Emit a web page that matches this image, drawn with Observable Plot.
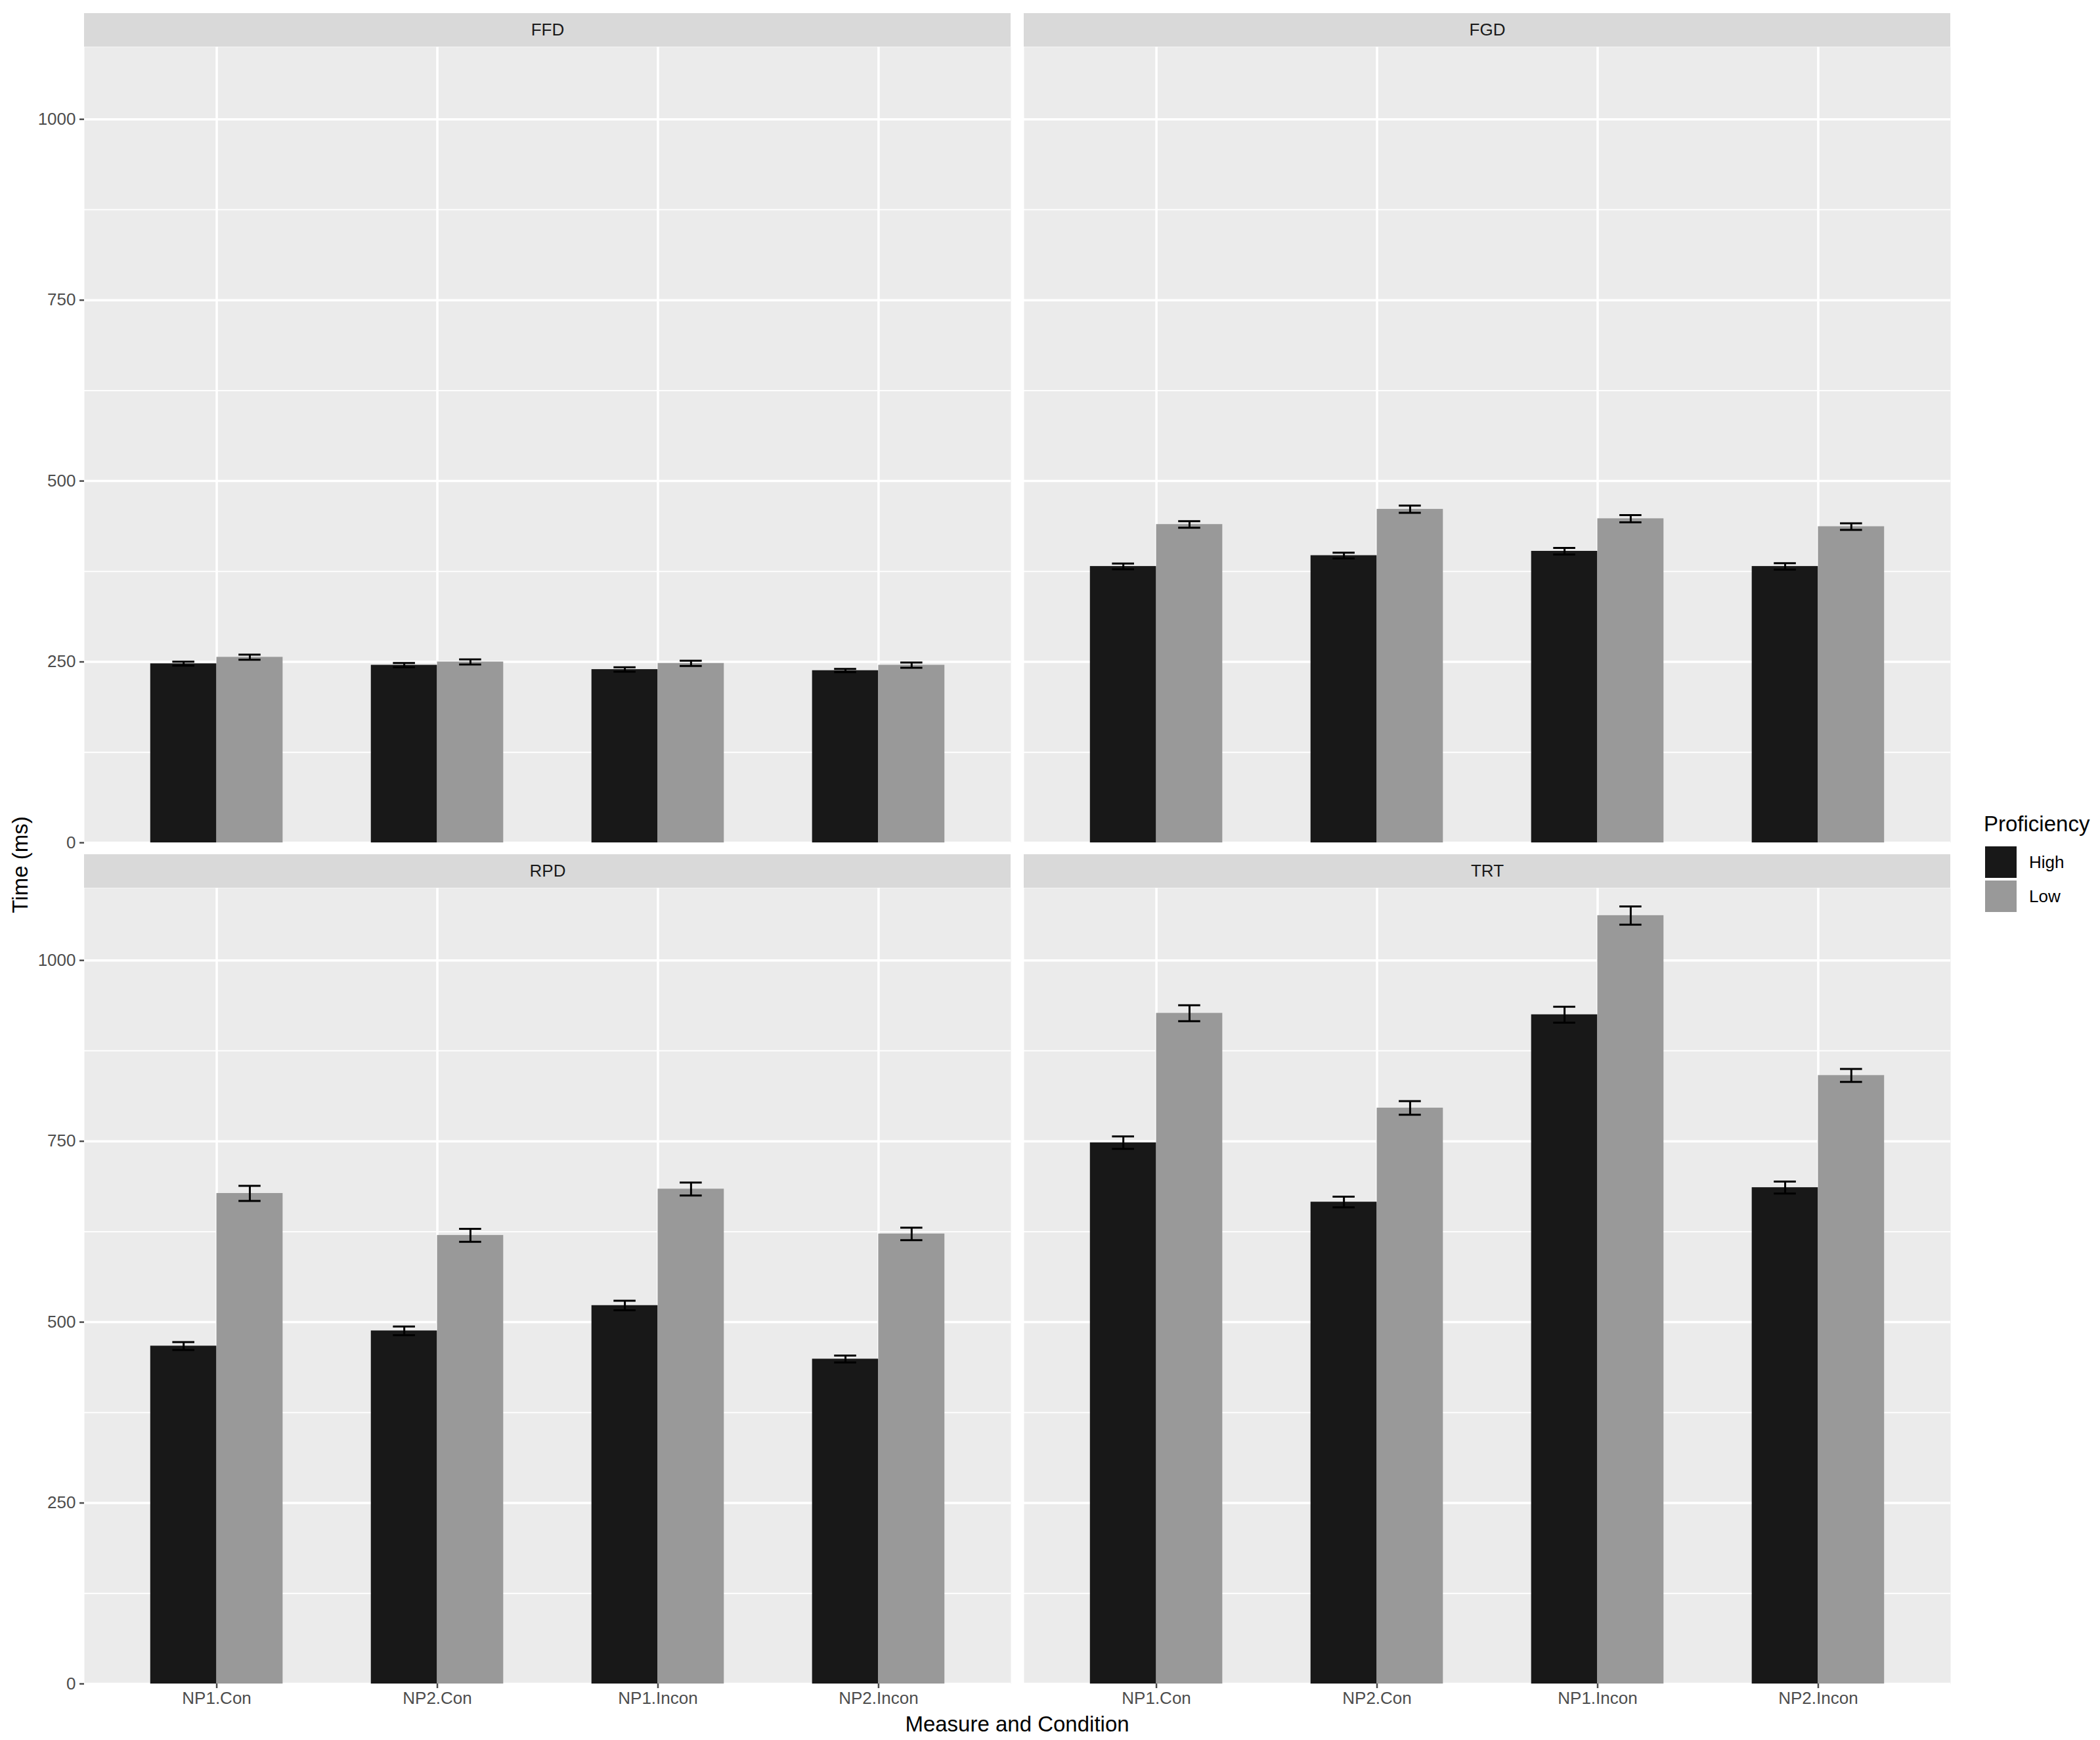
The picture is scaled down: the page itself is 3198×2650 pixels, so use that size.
<!DOCTYPE html>
<html>
<head>
<meta charset="utf-8">
<script src="https://cdn.jsdelivr.net/npm/d3@7"></script>
<script src="https://cdn.jsdelivr.net/npm/@observablehq/plot@0.6"></script>
<style>
  html, body { margin: 0; padding: 0; background: #ffffff; }
  #wrap { position: relative; width: 3198px; height: 2650px; font-family: "Liberation Sans", Arial, Helvetica, sans-serif; }
  #chart { position: absolute; left: 0; top: 0; }
  .abs { position: absolute; white-space: nowrap; line-height: 1; }
</style>
</head>
<body>
<div id="wrap">
  <div id="chart"></div>
  <div class="abs" id="ytitle" style="left:30px; top:1317px; font-size:33px; color:#000; transform:translate(-50%,-50%) rotate(-90deg);">Time (ms)</div>
  <div class="abs" id="xtitle" style="left:1549px; top:2625px; font-size:33px; color:#000; transform:translate(-50%,-50%);">Measure and Condition</div>
  <div id="legend"></div>
</div>
<script>
// ---- data ----
const measures = ["FFD", "FGD", "RPD", "TRT"];
const conditions = ["NP1.Con", "NP2.Con", "NP1.Incon", "NP2.Incon"];
const groups = ["High", "Low"];
const groupColors = ["#181818", "#999999"];

const ffdHigh = [247.5, 245.5, 239.5, 238];
const ffdLow  = [256.5, 250, 248, 245.5];
const fgdHigh = [382, 397, 403, 382];
const fgdLow  = [440, 461, 448, 437];
const rpdHigh = [467, 488, 523, 449];
const rpdLow  = [678, 620, 684, 622];
const trtHigh = [748, 666, 925, 686];
const trtLow  = [927, 796, 1062, 841];

const ffdHighSE = [2.7, 3, 3, 2.3];
const ffdLowSE  = [3.5, 3.5, 3.6, 3.6];
const fgdHighSE = [4, 4, 4.5, 4.5];
const fgdLowSE  = [4.5, 5, 5, 4.5];
const rpdHighSE = [5.5, 6, 6.5, 4.7];
const rpdLowSE  = [10.5, 9, 9, 8.6];
const trtHighSE = [8.6, 7.4, 11, 8.2];
const trtLowSE  = [11, 9.4, 12.5, 9];

const yMajor = [0, 250, 500, 750, 1000];
const yMinor = [125, 375, 625, 875];

// ---- build table ----
const meanBy = { FFD: [ffdHigh, ffdLow], FGD: [fgdHigh, fgdLow], RPD: [rpdHigh, rpdLow], TRT: [trtHigh, trtLow] };
const seBy = { FFD: [ffdHighSE, ffdLowSE], FGD: [fgdHighSE, fgdLowSE], RPD: [rpdHighSE, rpdLowSE], TRT: [trtHighSE, trtLowSE] };

const dodge = 0.15;   // half of each bar's width in band units
const capHalf = 0.05;
const rows = [];
measures.forEach((m, mi) => {
  conditions.forEach((c, ci) => {
    groups.forEach((g, gi) => {
      const mean = meanBy[m][gi][ci];
      const se = seBy[m][gi][ci];
      const center = ci + 1 + (gi === 0 ? -dodge : dodge);
      rows.push({ measure: m, col: mi % 2, row: Math.floor(mi / 2), cond: c, group: g,
        mean, lo: mean - se, hi: mean + se, center });
    });
  });
});
const facets = measures.map((m, mi) => ({ measure: m, col: mi % 2, row: Math.floor(mi / 2) }));
const F = { fx: "col", fy: "row" };

const chart = Plot.plot({
  width: 3198,
  height: 2650,
  marginLeft: 128,
  marginRight: 228,
  marginTop: 71,
  marginBottom: 86,
  style: { fontFamily: "'Liberation Sans', Arial, Helvetica, sans-serif", background: "#ffffff", overflow: "visible" },
  fx: { domain: [0, 1], paddingInner: 0.014, paddingOuter: 0, axis: null, label: null },
  fy: { domain: [0, 1], paddingInner: 0.0539, paddingOuter: 0, axis: null, label: null },
  x: { type: "linear", domain: [0.4, 4.6] },
  y: { domain: [0, 1100] },
  color: { domain: groups, range: groupColors },
  marks: [
    Plot.frame({ fill: "#EBEBEB", stroke: "none" }),
    Plot.gridY(yMinor, { stroke: "#ffffff", strokeOpacity: 1, strokeWidth: 1.8 }),
    Plot.gridY(yMajor, { stroke: "#ffffff", strokeOpacity: 1, strokeWidth: 3.5 }),
    Plot.gridX([1, 2, 3, 4], { stroke: "#ffffff", strokeOpacity: 1, strokeWidth: 3.5 }),
    Plot.rectY(rows, { ...F, x1: d => d.center - dodge, x2: d => d.center + dodge, y1: 0, y2: "mean", fill: "group" }),
    Plot.ruleX(rows, { ...F, x: "center", y1: "lo", y2: "hi", stroke: "#000000", strokeWidth: 3 }),
    Plot.ruleY(rows, { ...F, y: "hi", x1: d => d.center - capHalf, x2: d => d.center + capHalf, stroke: "#000000", strokeWidth: 3 }),
    Plot.ruleY(rows, { ...F, y: "lo", x1: d => d.center - capHalf, x2: d => d.center + capHalf, stroke: "#000000", strokeWidth: 3 }),
    Plot.rect(facets, { ...F, y1: 1100, y2: 1100, insetTop: -51, fill: "#D9D9D9" }),
    Plot.text(facets, { ...F, y: 1100, dy: -25.5, text: "measure", fontSize: 26, fill: "#1a1a1a" }),
    Plot.axisY(yMajor, { tickSize: 7, tickPadding: 6, fontSize: 26, color: "#4d4d4d", strokeWidth: 2.5, label: null,
      tickFormat: d => String(d) }),
    Plot.axisX([1, 2, 3, 4], { tickSize: 7, tickPadding: 5, fontSize: 26, color: "#4d4d4d", strokeWidth: 2.5, label: null,
      tickFormat: i => conditions[i - 1] })
  ]
});
document.getElementById("chart").appendChild(chart);

// ---- legend (HTML, right side) ----
const legend = document.getElementById("legend");
const title = document.createElement("div");
title.className = "abs";
title.style.cssText = "left:3021px; top:1238px; font-size:33px; color:#000;";
title.textContent = "Proficiency";
legend.appendChild(title);
groups.forEach((g, i) => {
  const top = 1289 + i * 52;
  const key = document.createElement("div");
  key.style.cssText = `position:absolute; left:3023px; top:${top}px; width:48px; height:48px; background:${groupColors[i]};`;
  legend.appendChild(key);
  const lab = document.createElement("div");
  lab.className = "abs";
  lab.style.cssText = `left:3090px; top:${top + 24}px; font-size:26px; color:#000; transform:translateY(-50%);`;
  lab.textContent = g;
  legend.appendChild(lab);
});
</script>
</body>
</html>
